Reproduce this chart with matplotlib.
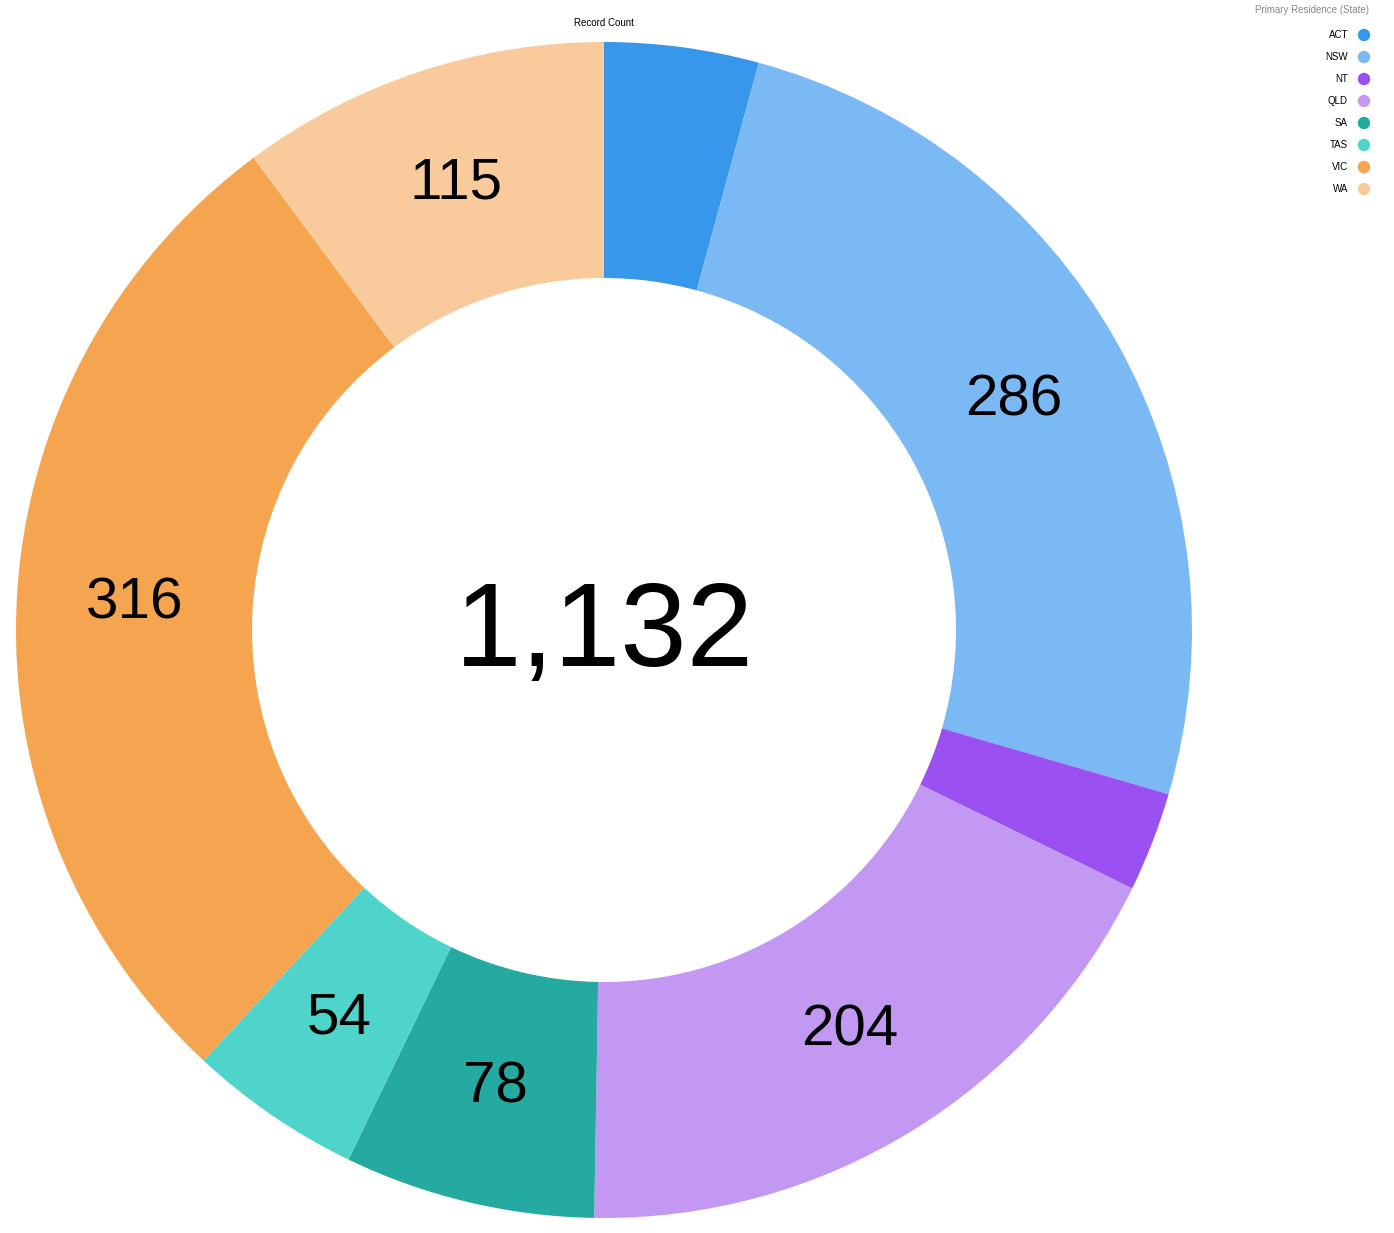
import matplotlib
matplotlib.use("Agg")
import matplotlib.pyplot as plt
import numpy as np

states = ["ACT", "NSW", "NT", "QLD", "SA", "TAS", "VIC", "WA"]
counts = [48, 286, 31, 204, 78, 54, 316, 115]
colors = ["#3797EB", "#7AB9F4", "#9B51F1", "#C398F3", "#25AAA2", "#4FD4CB", "#F5A450", "#F9CA9C"]
show_label = [False, True, False, True, True, True, True, True]

plt.rcParams['font.family'] = ['Liberation Sans', 'DejaVu Sans']
W, H = 1394, 1233
fig = plt.figure(figsize=(W/100, H/100), dpi=100)
cx, cy, R = 604, 630, 588
ax = fig.add_axes([(cx-R)/W, (H-cy-R)/H, 2*R/W, 2*R/H])
wedges, _ = ax.pie(counts, colors=colors, startangle=90, counterclock=False,
                   radius=1, wedgeprops=dict(width=1-352/588, linewidth=0))
ax.set_xlim(-1, 1); ax.set_ylim(-1, 1); ax.set_aspect('equal'); ax.axis('off')

total = sum(counts)
rmid = (1 + 352/588) / 2
cum = 0
for v, s in zip(counts, show_label):
    mid = (cum + v/2) / total * 2*np.pi
    cum += v
    if s:
        ax.text(rmid*np.sin(mid), rmid*np.cos(mid), f"{v}", ha='center', va='center', fontsize=42)
ax.text(0, -0.01, f"{total:,}", ha='center', va='center', fontsize=86)

fig.text(cx/W, 1-23/H, "Record Count", ha='center', va='center', fontsize=7)
fig.text(1369/W, 1-10/H, "Primary Residence (State)", ha='right', va='center', fontsize=7, color='#888888')
for i, (s, c) in enumerate(zip(states, colors)):
    y = 1 - (35 + 22*i)/H
    fig.text(1348/W, y, s, ha='right', va='center', fontsize=7)
    fig.patches.append(matplotlib.patches.Ellipse((1364/W, y), 11/W, 11/H, transform=fig.transFigure, color=c))

fig.savefig("out.png", dpi=100)
